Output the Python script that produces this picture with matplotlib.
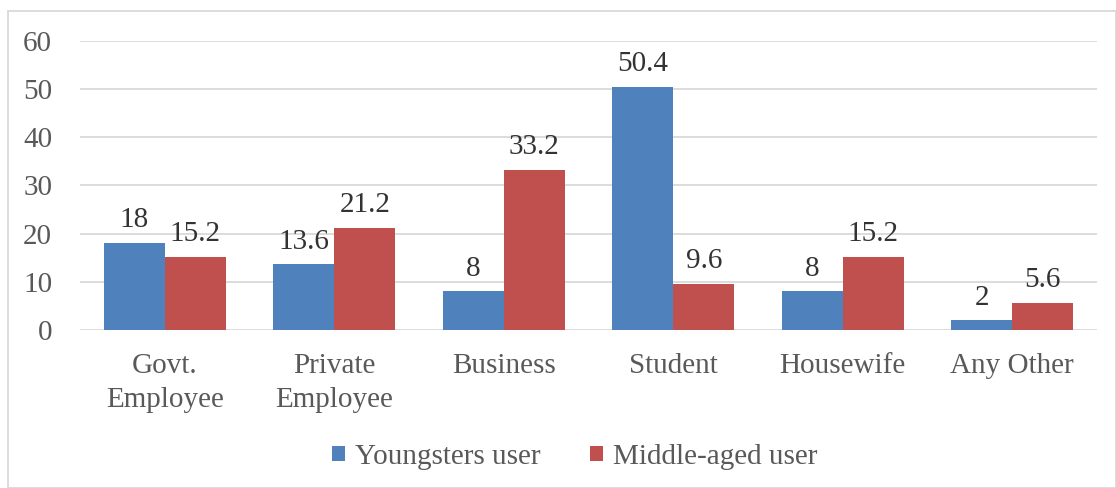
import matplotlib
matplotlib.use("Agg")
import matplotlib.pyplot as plt
import numpy as np
from matplotlib.patches import Rectangle

categories = ["Govt.\nEmployee", "Private\nEmployee", "Business", "Student", "Housewife", "Any Other"]
youngsters = [18, 13.6, 8, 50.4, 8, 2]
middle_aged = [15.2, 21.2, 33.2, 9.6, 15.2, 5.6]
series_names = ["Youngsters user", "Middle-aged user"]
yticks = [0, 10, 20, 30, 40, 50, 60]

plt.rcParams['font.family'] = ['Liberation Serif', 'DejaVu Serif']
text_color = "#595959"
blue = "#4F81BD"
red = "#C0504D"
fs = 21

fig = plt.figure(figsize=(11.16, 4.88), dpi=100)
ax = fig.add_axes([0.0717, 0.324, 0.9113, 0.592])

x = np.arange(len(categories))
w = 0.36
b1 = ax.bar(x - w/2, youngsters, w, color=blue, label=series_names[0], zorder=3)
b2 = ax.bar(x + w/2, middle_aged, w, color=red, label=series_names[1], zorder=3)

for bars, vals in ((b1, youngsters), (b2, middle_aged)):
    for rect, v in zip(bars, vals):
        ax.annotate(f"{v:g}", (rect.get_x() + rect.get_width()/2, v),
                    xytext=(0, 7), textcoords="offset points",
                    ha="center", va="bottom", fontsize=fs, color="#333333",
                    annotation_clip=False)

ax.set_xlim(-0.5, len(categories) - 0.5)
ax.set_ylim(0, 60)
ax.set_yticks(yticks)
ax.set_xticks(x)
ax.set_xticklabels(categories, linespacing=1.4)
ax.tick_params(axis="both", length=0, labelsize=fs, labelcolor=text_color)
ax.tick_params(axis="y", pad=20)
ax.tick_params(axis="x", pad=17)
ax.yaxis.grid(True, color="#d9d9d9", linewidth=1.3, zorder=0)
for s in ax.spines.values():
    s.set_visible(False)

leg = fig.legend(loc="center", bbox_to_anchor=(0.515, 0.064), ncol=2, frameon=False,
                 fontsize=fs, handlelength=0.45, handleheight=0.45, handletextpad=0.35,
                 columnspacing=1.7)
for t in leg.get_texts():
    t.set_color(text_color)

fig.patches.append(Rectangle((0.007, 0.0), 0.993, 0.977, transform=fig.transFigure,
                             fill=False, edgecolor="#d9d9d9", linewidth=1.3))

fig.savefig("out.png", dpi=100)
